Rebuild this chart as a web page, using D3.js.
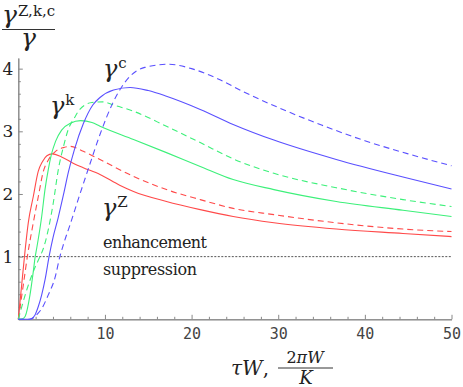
<!DOCTYPE html>
<html>
<head>
    <meta charset="utf-8">
    <title>gamma enhancement</title>
    <script src="https://d3js.org/d3.v7.min.js"></script>
    <style>
        body { margin: 0; background: #fff; }
        .tick line, .domain { stroke: #888; }
    </style>
</head>
<body>
    <script>
        // data: [x, y] points of each curve
        var gammaZ = [[0,0],[0.39,0.55],[0.77,1.08],[1.15,1.54],[1.73,1.96],[2.3,2.36],[2.8,2.52],[3.3,2.61],[3.9,2.64],[5,2.59],[6.5,2.48],[7.5,2.42],[9.43,2.31],[11.7,2.14],[13.3,2.04],[17.1,1.88],[21,1.75],[24.8,1.64],[29.5,1.54],[36.7,1.44],[44.4,1.37],[50,1.32]];
        var gammaZdash = [[0,0],[0.58,0.55],[1.1,1.05],[1.73,1.54],[2.31,1.96],[2.89,2.36],[3.5,2.55],[4.3,2.68],[5.2,2.74],[6,2.76],[7.5,2.68],[9.43,2.55],[13.3,2.28],[17.1,2.07],[21,1.91],[24.8,1.77],[29.5,1.67],[36.7,1.54],[44.4,1.44],[50,1.40]];
        var gammaK = [[0,0],[0.5,0.01],[0.8,0.05],[1.35,0.39],[1.73,0.76],[1.95,1.0],[2.12,1.13],[2.7,1.64],[3.08,2.07],[3.46,2.39],[3.8,2.62],[4.3,2.84],[5,3.02],[6,3.13],[7.2,3.17],[8.5,3.14],[9.43,3.08],[13.3,2.87],[17.1,2.66],[21,2.44],[24.8,2.23],[29.5,2.07],[36.7,1.88],[44.4,1.74],[50,1.64]];
        var gammaKdash = [[0,0],[0.5,0.25],[1.0,0.48],[1.5,0.68],[2.0,0.85],[2.5,1.0],[2.89,1.13],[3.46,1.43],[4.04,1.86],[4.62,2.39],[5.2,2.75],[5.77,3.03],[6.5,3.22],[7.1,3.35],[8.5,3.46],[9.8,3.47],[11,3.42],[13.3,3.32],[17.1,3.08],[21,2.82],[24.8,2.56],[29.5,2.33],[36.7,2.10],[44.4,1.91],[50,1.80]];
        var gammaC = [[0,0],[1.0,0],[1.5,0.01],[1.93,0.07],[2.3,0.2],[2.7,0.39],[3.1,0.64],[3.55,1.0],[4.0,1.3],[4.6,1.62],[5.2,1.98],[5.8,2.36],[6.5,2.72],[7.5,3.12],[8.6,3.42],[9.43,3.54],[11,3.66],[12.9,3.70],[15,3.65],[17.1,3.56],[21,3.35],[24.8,3.11],[29.5,2.86],[36.7,2.55],[44.4,2.27],[50,2.08]];
        var gammaCdash = [[0,0],[1.3,0],[1.8,0.03],[2.3,0.1],[2.7,0.17],[3.46,0.39],[4.23,0.66],[4.8,1.0],[5.2,1.19],[6.0,1.52],[7.0,1.95],[8.2,2.45],[9.43,2.95],[10.9,3.45],[11.8,3.68],[12.9,3.88],[14.6,4.02],[17.3,4.07],[20,4.0],[23,3.84],[26,3.63],[30,3.38],[35,3.1],[40,2.85],[45,2.64],[50,2.45]];

        var xMajor = [10, 20, 30, 40, 50];
        var yMajor = [1, 2, 3, 4];

        var serif = "DejaVu Serif";
        var mono = "DejaVu Sans Mono";

        var width = 463, height = 387;

        var x = d3.scaleLinear().domain([0, 50]).range([18.3, 451.5]);
        var y = d3.scaleLinear().domain([0, 4.17]).range([319.3, 58]);

        var svg = d3.select("body").append("svg")
            .attr("width", width)
            .attr("height", height);

        // minor ticks
        var xMinor = d3.range(2, 50, 2).filter(function(v) { return v % 10 != 0; });
        var yMinor = d3.range(0.2, 4.15, 0.2).filter(function(v) { return Math.abs(v - Math.round(v)) > 0.01; });

        svg.append("g").attr("transform", "translate(0," + y(0) + ")")
            .call(d3.axisBottom(x).tickValues(xMinor).tickSize(-2.5).tickFormat("").tickSizeOuter(0));
        svg.append("g").attr("transform", "translate(" + x(0) + ",0)")
            .call(d3.axisLeft(y).tickValues(yMinor).tickSize(-2.5).tickFormat("").tickSizeOuter(0));

        svg.append("g").attr("transform", "translate(0," + y(0) + ")")
            .call(d3.axisBottom(x).tickValues(xMajor).tickFormat(d3.format("d"))
                .tickSize(-4.5).tickPadding(9).tickSizeOuter(0))
            .attr("font-family", mono).attr("font-size", 15)
            .selectAll("text").attr("fill", "#444");

        svg.append("g").attr("transform", "translate(" + x(0) + ",0)")
            .call(d3.axisLeft(y).tickValues(yMajor).tickFormat(d3.format("d"))
                .tickSize(-4.5).tickPadding(5).tickSizeOuter(0))
            .attr("font-family", serif).attr("font-size", 17)
            .selectAll("text").attr("fill", "#222");

        // threshold line
        svg.append("line")
            .attr("x1", x(0)).attr("x2", x(50))
            .attr("y1", y(1)).attr("y2", y(1))
            .attr("stroke", "#555").attr("stroke-width", 1)
            .attr("stroke-dasharray", "2,1.5");

        var line = d3.line()
            .x(function(d) { return x(d[0]); })
            .y(function(d) { return y(d[1]); })
            .curve(d3.curveMonotoneX);

        var series = [
            { data: gammaZ, color: "#ff4a4a", dash: null },
            { data: gammaZdash, color: "#ff4a4a", dash: "6,4" },
            { data: gammaK, color: "#3df07a", dash: null },
            { data: gammaKdash, color: "#3df07a", dash: "6,4" },
            { data: gammaC, color: "#5a50ff", dash: null },
            { data: gammaCdash, color: "#5a50ff", dash: "6,4" }
        ];

        svg.selectAll("path.curve")
            .data(series)
            .enter().append("path")
            .attr("class", "curve")
            .attr("d", function(d) { return line(d.data); })
            .attr("fill", "none")
            .attr("stroke", function(d) { return d.color; })
            .attr("stroke-width", 1.1)
            .attr("stroke-dasharray", function(d) { return d.dash; });

        function mtext(px, py, size) {
            return svg.append("text").attr("x", px).attr("y", py)
                .attr("font-family", serif).attr("font-size", size).attr("fill", "#222");
        }

        // region labels
        mtext(103, 248, 16).attr("textLength", 104).text("enhancement");
        mtext(103, 275, 16).attr("textLength", 94).text("suppression");

        // curve labels
        function gammaLabel(px, py, sup) {
            var t = mtext(px, py, 24);
            t.append("tspan").attr("font-style", "italic").text("γ");
            t.append("tspan").attr("font-size", 15).attr("dy", -9).attr("dx", 1).text(sup);
        }
        gammaLabel(103, 77, "c");
        gammaLabel(50, 114, "k");
        gammaLabel(102, 216, "Z");

        // y title
        var yt = mtext(2, 23, 25);
        yt.append("tspan").attr("font-style", "italic").text("γ");
        yt.append("tspan").attr("font-size", 15).attr("dy", -7).attr("dx", 1).text("Z,k,c");
        svg.append("line").attr("x1", 2).attr("x2", 55).attr("y1", 29.5).attr("y2", 29.5)
            .attr("stroke", "#333").attr("stroke-width", 1);
        mtext(21, 46, 25).attr("font-style", "italic").text("γ");

        // x title
        var xt = mtext(231, 375, 20);
        xt.append("tspan").attr("font-style", "italic").text("τW");
        xt.append("tspan").text(",");
        var num = mtext(305, 363, 16).attr("text-anchor", "middle");
        num.append("tspan").text("2");
        num.append("tspan").attr("font-style", "italic").text("πW");
        svg.append("line").attr("x1", 278).attr("x2", 333).attr("y1", 368).attr("y2", 368)
            .attr("stroke", "#333").attr("stroke-width", 1);
        mtext(306, 384, 18).attr("text-anchor", "middle").attr("font-style", "italic").text("K");
    </script>
</body>
</html>
